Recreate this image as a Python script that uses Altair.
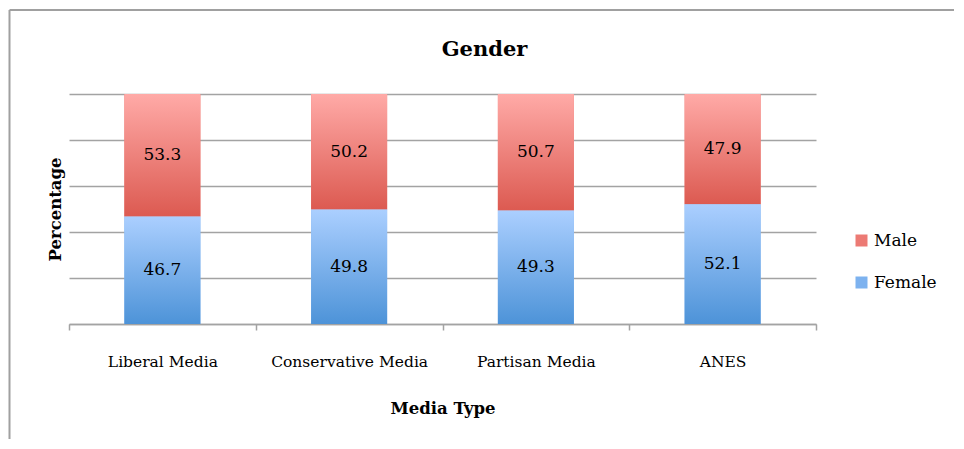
import altair as alt
import pandas as pd

media = ['Liberal Media', 'Conservative Media', 'Partisan Media', 'ANES']
female = [46.7, 49.8, 49.3, 52.1]
male = [53.3, 50.2, 50.7, 47.9]
series = ['Male', 'Female']
grid_values = [0, 20, 40, 60, 80, 100]

rows = []
for i, m in enumerate(media):
    rows.append({'media': m, 'series': 'Female', 'order': 0, 'value': female[i]})
    rows.append({'media': m, 'series': 'Male', 'order': 1, 'value': male[i]})
df = pd.DataFrame(rows)

FONT = 'DejaVu Serif'
GRAY = '#a3a3a3'


def gradiente(arriba, abajo):
    return alt.Gradient(
        gradient='linear', x1=0, x2=0, y1=0, y2=1,
        stops=[alt.GradientStop(offset=0, color=arriba),
               alt.GradientStop(offset=1, color=abajo)]
    )


base = alt.Chart(df).transform_stack(
    stack='value', groupby=['media'], as_=['y0', 'y1'],
    sort=[alt.SortField('order')]
).transform_calculate(mid='(datum.y0 + datum.y1) / 2')

x_enc = alt.X(
    'media:N', sort=media, title='Media Type',
    scale=alt.Scale(paddingInner=0, paddingOuter=0),
    axis=alt.Axis(
        labelAngle=0, tickBand='extent', grid=False,
        domainColor=GRAY, domainWidth=1.5,
        tickColor=GRAY, tickWidth=1.5, tickSize=6,
        labelFont=FONT, labelFontSize=15.5, labelColor='black', labelPadding=24,
        titleFont=FONT, titleFontSize=16.5, titleFontWeight='bold', titleColor='black',
        titlePadding=31
    )
)
y_axis = alt.Axis(
    values=grid_values, labels=False, ticks=False, domain=False,
    grid=True, gridColor=GRAY, gridWidth=1.5,
    titleFont=FONT, titleFontSize=16.5, titleFontWeight='bold', titleColor='black',
    titlePadding=6
)
y_escala = alt.Scale(domain=[0, 100])
y_enc = alt.Y('y0:Q', title='Percentage', scale=y_escala, axis=y_axis)

barras = base.mark_bar(size=76).encode(
    x=x_enc, y=y_enc, y2='y1:Q',
    color=alt.Color(
        'series:N', title=None,
        scale=alt.Scale(domain=series, range=['#ec7a74', '#7db2ef']),
        legend=alt.Legend(
            orient='none', legendX=784, legendY=138,
            symbolType='square', symbolSize=144, symbolStrokeWidth=0,
            labelFont=FONT, labelFontSize=17, labelColor='black',
            rowPadding=24, labelOffset=4
        )
    )
)

barras_h = base.transform_filter("datum.series == 'Male'").mark_bar(
    size=76, color=gradiente('#ffaaa7', '#dc5a51')
).encode(x=x_enc, y=y_enc, y2='y1:Q')

barras_m = base.transform_filter("datum.series == 'Female'").mark_bar(
    size=76, color=gradiente('#abcfff', '#4d93d8')
).encode(x=x_enc, y=y_enc, y2='y1:Q')

etiquetas = base.mark_text(font=FONT, fontSize=17, color='black', baseline='middle').encode(
    x=x_enc,
    y=alt.Y('mid:Q', title='Percentage', scale=y_escala, axis=y_axis),
    text=alt.Text('value:Q', format='.1f')
)

marco = pd.DataFrame({'k': [0]})
marco_izq = alt.Chart(marco).mark_rule(color='#a0a0a0', strokeWidth=2).encode(
    x=alt.value(-59.5), y=alt.value(-84), y2=alt.value(345)
)
marco_sup = alt.Chart(marco).mark_rule(color='#a0a0a0', strokeWidth=2).encode(
    x=alt.value(-59.5), x2=alt.value(885), y=alt.value(-84)
)

chart = alt.layer(
    marco_izq, marco_sup, barras, barras_h, barras_m, etiquetas
).properties(
    width=747, height=230,
    padding={'left': 0, 'top': 1, 'right': 0, 'bottom': 0},
    title=alt.TitleParams('Gender', font=FONT, fontSize=21, fontWeight='bold',
                          color='black', anchor='middle', frame='group',
                          dx=42, offset=-51)
).configure_view(stroke='transparent')

chart.save("out.html", embed_options={"renderer": "svg", "actions": False})
